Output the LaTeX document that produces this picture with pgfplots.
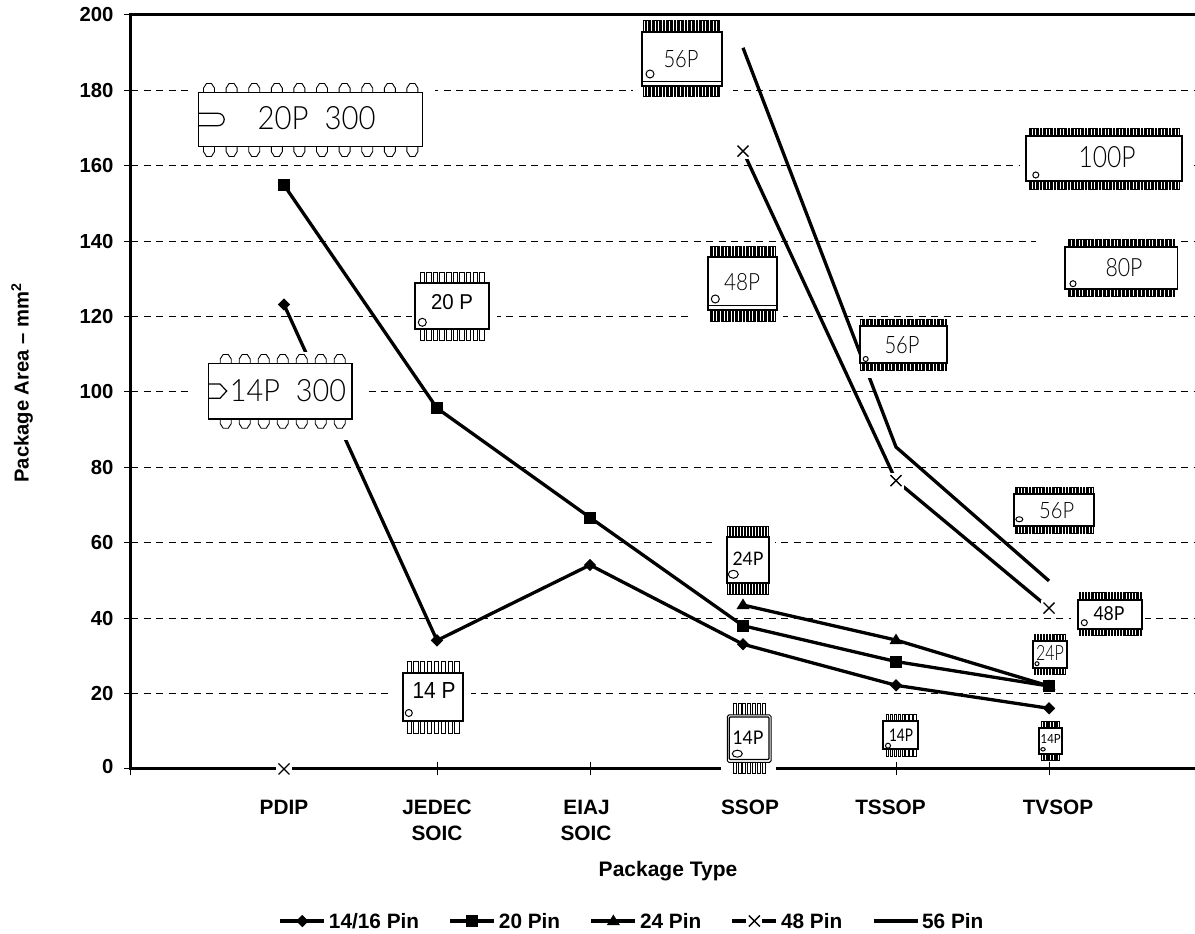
\documentclass[border=0pt]{standalone}
\usepackage{fontspec}
\usepackage{graphicx}
\usepackage{pgfplots}
\pgfplotsset{compat=1.18}
\setmainfont{Liberation Sans}
\newfontfamily\chipfont{Lato}[UprightFont=* Light]
\newfontfamily\chipfontb{Lato}
\newcommand\Lb[2]{\mbox{\kern#1 #2}}
\newcommand\Rb[2]{\mbox{#2\kern#1}}
\pgfdeclareplotmark{mydia}{\pgfpathmoveto{\pgfqpoint{0pt}{6.2pt}}\pgfpathlineto{\pgfqpoint{6.2pt}{0pt}}\pgfpathlineto{\pgfqpoint{0pt}{-6.2pt}}\pgfpathlineto{\pgfqpoint{-6.2pt}{0pt}}\pgfpathclose\pgfusepathqfill}
\pgfdeclareplotmark{mysq}{\pgfpathrectangle{\pgfqpoint{-6pt}{-6pt}}{\pgfqpoint{12pt}{12pt}}\pgfusepathqfill}
\pgfdeclareplotmark{mytri}{\pgfpathmoveto{\pgfqpoint{0pt}{6.5pt}}\pgfpathlineto{\pgfqpoint{6.5pt}{-4pt}}\pgfpathlineto{\pgfqpoint{-6.5pt}{-4pt}}\pgfpathclose\pgfusepathqfill}
\pgfdeclareplotmark{xhalo}{\pgfpathrectangle{\pgfqpoint{-8pt}{-8pt}}{\pgfqpoint{16pt}{16pt}}\pgfusepathqfill
 \pgfpathmoveto{\pgfqpoint{-5.5pt}{-5.5pt}}\pgfpathlineto{\pgfqpoint{5.5pt}{5.5pt}}\pgfpathmoveto{\pgfqpoint{-5.5pt}{5.5pt}}\pgfpathlineto{\pgfqpoint{5.5pt}{-5.5pt}}\pgfusepathqstroke}
% chip helpers, in image pixels
\newcommand\mask[4]{\fill[white] (#1,#2) rectangle (#3,#4);}
\newcommand\body[5]{\draw[black,fill=white,line width=#5pt] (#1,#2) rectangle (#3,#4);}
\newcommand\pinrow[6]{% x0 x1 y0 y1 n w
 \pgfmathsetmacro\pinstep{(#2-#1-#6)/(#5-1)}
 \foreach \i in {1,...,#5}{\pgfmathsetmacro\pa{#1+(\i-1)*\pinstep}\pgfmathsetmacro\pb{\pa+#6}
  \draw[black,line width=.75pt] (\pa,#3) rectangle (\pb,#4);}}
\newcommand\dip[5]{% x0 pitch n ybody yend
 \foreach \i in {1,...,#3}{\pgfmathsetmacro\pc{#1+(\i-1)*#2}\pgfmathsetmacro\ym{#4+(#5-#4)*.5}
  \draw[black,line width=.9pt,line join=miter] (\pc-5.5,#4)--(\pc-5.5,\ym)--(\pc-2.5,#5)--(\pc+2.5,#5)--(\pc+5.5,\ym)--(\pc+5.5,#4);}}
\newcommand\hole[4]{\draw[black,line width=1pt] (#1,#2) ellipse [x radius=#3,y radius=#4];}
\newcommand\lbl[5]{\node[inner sep=0pt,anchor=center] at (#1,#2) {\resizebox{#3pt}{#4pt}{\ifdim#4pt<15pt\chipfontb\else\chipfont\fi #5}};}
\newcommand\lblr[5]{\node[inner sep=0pt,anchor=center] at (#1,#2) {\resizebox{#3pt}{#4pt}{#5}};}
\begin{document}
\begin{tikzpicture}[x=1pt,y=1pt]
\path[use as bounding box] (0,0) rectangle (1195,934);
\begin{axis}[
  at={(131pt,165pt)},anchor=south west,scale only axis,width=1071pt,height=754pt,
  xmin=0,xmax=7,ymin=0,ymax=200,clip=false,
  xtick={0,1,2,3,4,5,6,7},
  xticklabels={,PDIP,{JEDEC\\SOIC},{\Rb{7pt}{EIAJ}\\\Rb{8pt}{SOIC}},\Lb{14pt}{SSOP},\Rb{11pt}{TSSOP},\Lb{18pt}{TVSOP},},
  ytick={0,20,...,200},
  yticklabels={\raisebox{5pt}{0},20,40,60,80,100,120,140,160,180,200},
  xtick pos=bottom,ytick pos=left,
  xtick align=center,ytick align=outside,
  major tick length=13pt,
  y tick style={/pgfplots/major tick length=7pt},
  tick style={black,line width=1pt},
  axis line style={black,line width=3pt},
  ymajorgrids,
  grid style={black,line width=1pt,dash pattern=on 7pt off 5.5pt},
  /pgf/number format/assume math mode=true,
  yticklabel style={font=\fontsize{20.3}{26}\selectfont\bfseries,xshift=-1pt},
  xticklabel style={font=\fontsize{20.8}{26}\selectfont\bfseries,align=center,yshift=-21pt},
  xlabel={Package Type},ylabel={Package Area -- mm\textsuperscript{2}},
  xlabel style={font=\fontsize{21}{26}\selectfont\bfseries,at={(axis description cs:0.5014,-0.1353)},anchor=center},
  ylabel style={font=\fontsize{20.2}{26}\selectfont\bfseries,at={(axis description cs:-0.1017,0.512)},anchor=center,rotate=0},
  unbounded coords=jump,
  legend columns=5,
  legend style={at={(axis description cs:0.4669,-0.2016)},anchor=center,draw=none,fill=none,inner sep=0pt,
    font=\fontsize{20.8}{26}\selectfont\bfseries,/tikz/every even column/.style={column sep=29.5pt},
    /tikz/every odd column/.style={column sep=3pt},
    /tikz/nodes={inner sep=0pt,anchor=base west,text depth=0pt}},
  legend cell align=left,
  legend image code/.code={\draw[mark repeat=2,mark phase=2,yshift=7pt,#1] plot coordinates {(0pt,0pt)(22pt,0pt)(44pt,0pt)};},
  every axis plot/.append style={black,line width=3.3pt,line join=miter},
]
\addplot[mark=mydia,mark options={fill=black,solid}] coordinates {(1,123.2)(2,34.1)(3,54.1)(4,33.1)(5,22.2)(6,16.1)};
\addlegendentry{14/16 Pin}
\addplot[mark=mysq,mark options={fill=black,solid}] coordinates {(1,154.9)(2,95.7)(3,66.7)(4,38.0)(5,28.5)(6,22.0)};
\addlegendentry{20 Pin}
\addplot[mark=mytri,mark options={fill=black,solid}] coordinates {(4,43.5)(5,34.2)(6,22.0)};
\addlegendentry{24 Pin}
\addplot[mark=xhalo,mark options={fill=white,draw=black,line width=1.4pt,solid}] coordinates {(1,0)(2,nan)(3,nan)(4,163.9)(5,76.5)(6,42.7)};
\addlegendentry{48 Pin}
\addplot[mark=none] coordinates {(4,191.3)(5,85.4)(6,49.9)};
\addlegendentry{56 Pin}
\end{axis}
\begin{scope}[x=1pt,y=-1pt,yshift=934pt]
% masks
\mask{192}{78}{435}{157}
\mask{192}{352}{363}{440}
\mask{412}{271}{497}{342}
\mask{389}{660}{471}{735}
\mask{633}{18}{733}{100}
\mask{693}{243}{783}{325}
\mask{712}{524}{775}{596}
\mask{721}{701}{776}{777}
\mask{860}{318}{947}{378}
\mask{1020}{126}{1188}{191}
\mask{1036}{236}{1181}{299}
\mask{1010}{485}{1098}{535}
\mask{1071}{590}{1145}{637}
\mask{1031}{632}{1068}{676}
\mask{881}{712}{920}{758}
\mask{1037}{720}{1064}{762}
% 20P 300
\dip{209}{22.6}{10}{92.7}{83.5}\dip{209}{22.6}{10}{146.7}{156.5}
\body{198.3}{92.7}{422.7}{146.7}{1.3}
\draw[black,line width=1.2pt] (198.3,113.3)--(218,113.3) arc[start angle=-90,end angle=90,radius=6.2]--(198.3,125.7);
\lbl{316.7}{118}{118}{23}{20P\ \ 300}
% 14P 300
\dip{225.7}{19}{7}{363.3}{354.5}\dip{225.7}{19}{7}{419}{428.3}
\body{208.7}{363.3}{352}{419}{1.3}
\draw[black,line width=1.2pt] (208.7,384)--(220,384)--(226.7,391)--(220,398.3)--(208.7,398.3);
\lbl{288}{390.8}{116}{22}{14P\ \ 300}
% 20 P
\pinrow{420}{484}{272.7}{283.3}{10}{4.5}\pinrow{420}{484}{329.3}{340.7}{10}{4.5}
\body{415}{283.3}{489.3}{329.3}{2}\hole{422.3}{322.3}{4}{4}
\lblr{452}{301.7}{42}{15}{20 P}
% 14 P
\pinrow{407}{459}{661.7}{672.7}{8}{4.2}\pinrow{407}{459}{721}{733.3}{8}{4.2}
\body{403}{672.7}{463}{721}{2}\hole{408.8}{713}{3.5}{3.5}
\lblr{434}{691}{43}{16}{14 P}
% 56P SSOP
\pinrow{643.8}{719.7}{20.7}{31.7}{28}{1.4}\pinrow{643.8}{719.7}{86}{96.7}{28}{1.4}
\body{642}{31.7}{722}{86}{2}\draw[black,line width=1pt] (642,81.7)--(722,81.7);\hole{650}{74}{4}{4}
\lbl{681}{59}{35}{17}{56P}
% 48P SSOP
\pinrow{710}{775}{246.7}{257.3}{24}{1.4}\pinrow{710}{775}{310}{321.7}{24}{1.4}
\body{708}{257.3}{777}{310}{2}\draw[black,line width=1pt] (708,306)--(777,306);\hole{715.3}{299}{4}{4}
\lbl{742}{281.7}{36}{17}{48P}
% 24P SSOP
\pinrow{727.7}{768.3}{526}{536.7}{14}{1.6}\pinrow{727.7}{768.3}{582.7}{594}{14}{1.6}
\body{726.7}{536.7}{769.3}{582.7}{2}\hole{733.3}{574.3}{5}{4}
\lbl{748}{559}{31}{13.5}{24P}
% 14P SSOP
\pinrow{733.3}{765}{703.3}{715}{7}{3}\pinrow{733.3}{765}{762.3}{773.3}{7}{3}
\draw[black,fill=white,line width=1pt,rounded corners=1.5pt] (727.3,715) rectangle (771,762.3);
\draw[black,line width=1.2pt,rounded corners=1pt] (729.3,717) rectangle (769,759.5);
\hole{737.3}{753.7}{5}{3.5}
\lbl{748}{738}{31}{13.5}{14P}
% 56P TSSOP
\pinrow{860.5}{946.5}{319.3}{326}{32}{1.4}\pinrow{860.5}{946.5}{363.3}{370.7}{32}{1.4}
\body{860}{326}{947}{363.3}{2}\hole{865.7}{359}{2.5}{2.5}
\lbl{902}{345}{35}{17}{56P}
% 14P TSSOP
\pinrow{886}{916}{714.3}{720.7}{8}{2.2}\pinrow{886}{916}{749.3}{756}{8}{2.2}
\body{883}{720.7}{918.3}{749.3}{1.7}\hole{888}{745.7}{2.5}{2.5}
\lbl{901}{735}{24}{12.5}{14P}
% 100P
\pinrow{1029}{1179}{128.3}{136}{54}{1.4}\pinrow{1029}{1179}{181}{189}{54}{1.4}
\body{1026}{136}{1181.8}{181}{1.7}\hole{1035.8}{175}{3}{3}
\lbl{1107}{156.7}{57}{21}{100P}
% 80P
\pinrow{1068}{1174.5}{239.3}{246.7}{40}{1.4}\pinrow{1068}{1174.5}{289}{296.7}{40}{1.4}
\body{1064.8}{246.7}{1177.4}{289}{1.7}\hole{1073}{283.7}{3}{3}
\lbl{1124}{267.7}{37}{18}{80P}
% 56P TVSOP
\pinrow{1015}{1093}{487.3}{494.3}{28}{1.4}\pinrow{1015}{1093}{525.7}{533.3}{28}{1.4}
\body{1014}{494.3}{1094.3}{525.7}{2}\hole{1019.3}{519.3}{3.5}{2.5}
\lbl{1056.7}{510.7}{35}{16}{56P}
% 48P right
\pinrow{1079.3}{1141.7}{592.7}{600}{22}{1.4}\pinrow{1079.3}{1141.7}{629}{635.7}{22}{1.4}
\body{1078.3}{600}{1141.7}{629}{1.7}\hole{1084.3}{622.7}{3}{3}
\lbl{1109}{614}{31}{14}{48P}
% 24P TVSOP
\pinrow{1034.3}{1065}{634}{640.7}{11}{1.4}\pinrow{1034.3}{1065}{668.3}{674.3}{11}{1.4}
\body{1032.7}{640.7}{1066.7}{668.3}{1.7}\hole{1037}{663.7}{2}{2}
\lbl{1050}{652.7}{28}{15}{24P}
% 14P TVSOP
\pinrow{1041.7}{1059.3}{721.7}{728.3}{7}{1.6}\pinrow{1041.7}{1059.3}{754.3}{760.7}{7}{1.6}
\body{1039}{728.3}{1062.3}{754.3}{1.7}\hole{1043}{749.3}{2.2}{1.7}
\lbl{1050.7}{739.3}{20}{9}{14P}
\end{scope}
\end{tikzpicture}
\end{document}
